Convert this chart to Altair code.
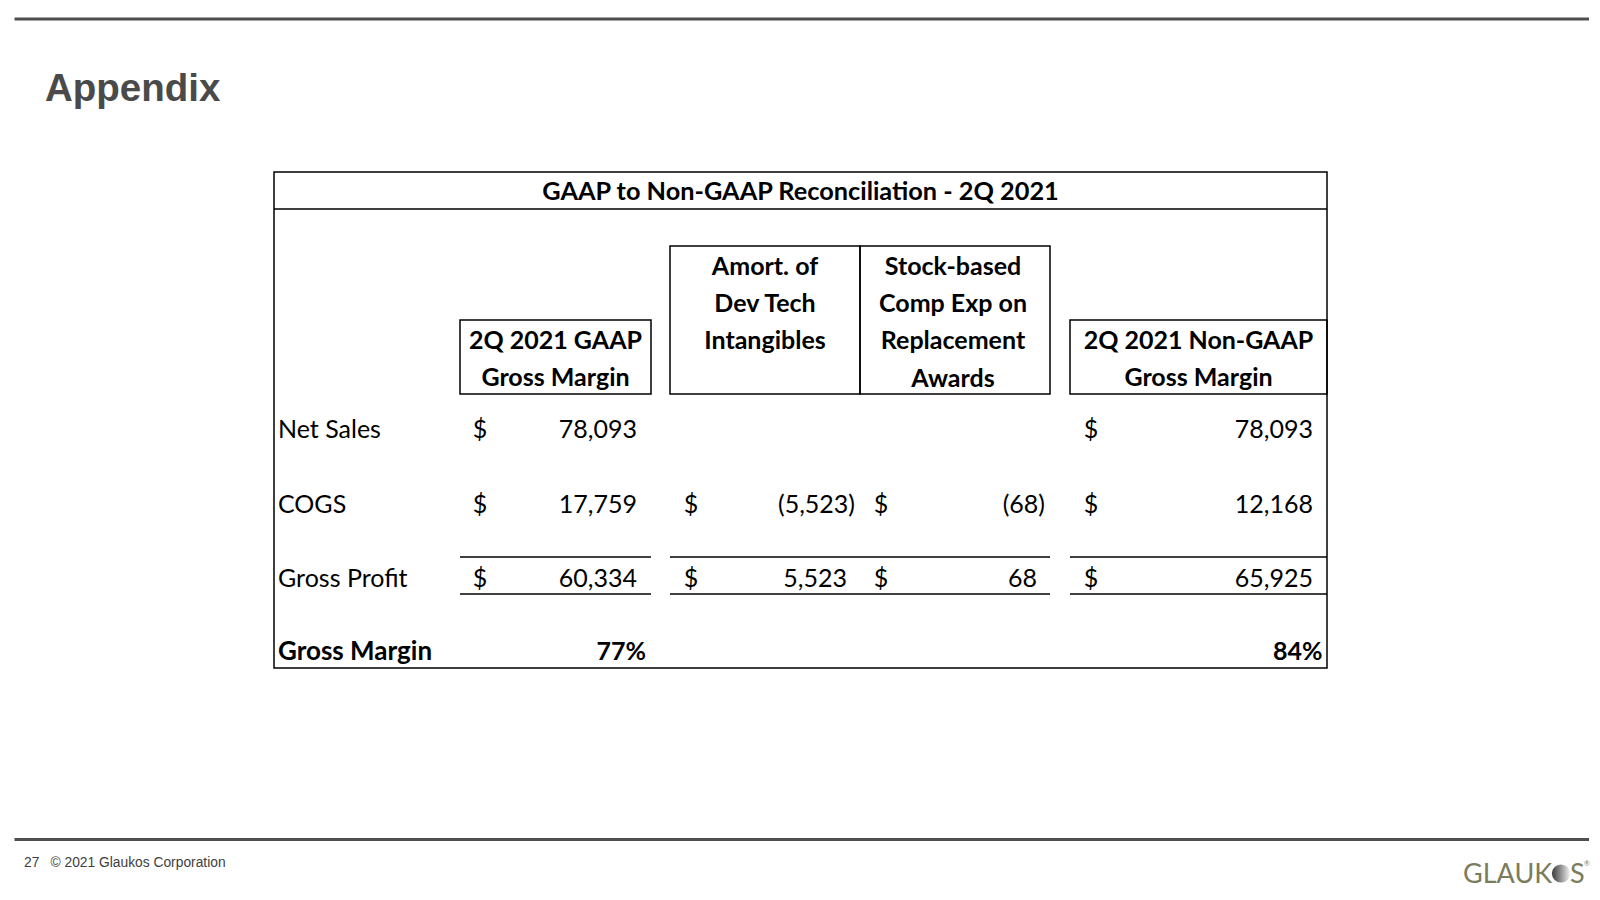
import altair as alt
import pandas as pd

# ---------------- data ----------------
slide_title = "Appendix"
table_title = "GAAP to Non-GAAP Reconciliation - 2Q 2021"
column_keys = ["gaap", "amort", "sbc", "nongaap"]
column_headers = [
    ["2Q 2021 GAAP", "Gross Margin"],
    ["Amort. of", "Dev Tech", "Intangibles"],
    ["Stock-based", "Comp Exp on", "Replacement", "Awards"],
    ["2Q 2021 Non-GAAP", "Gross Margin"],
]
row_labels = ["Net Sales", "COGS", "Gross Profit", "Gross Margin"]
gaap_values = [78093, 17759, 60334]
amort_values = [None, -5523, 5523]
sbc_values = [None, -68, 68]
nongaap_values = [78093, 12168, 65925]
gross_margin_pct = {"gaap": 77, "nongaap": 84}
footer_page = "27"
footer_text = "© 2021 Glaukos Corporation"
logo_left = "GLAUK"
logo_right = "S"

# ---------------- layout (page pixels) ----------------
W, H, M = 1600, 900, 8
TBL = dict(x0=274, x1=1327, y0=172, y1=668, rule=209)
BOX = {"gaap": (460, 651, 320, 394), "amort": (670, 860, 246, 394),
       "sbc": (860, 1050, 246, 394), "nongaap": (1070, 1327, 320, 394)}
HEAD_CX = {"gaap": 555.5, "amort": 765, "sbc": 953, "nongaap": 1198.5}
FIRST_BASE, LINE_STEP = 28.5, 37.4
ROW_BASE = [438, 512.5, 587, 660]
LABEL_X = 278
DOLLAR_X = {"gaap": 480, "amort": 691, "sbc": 881, "nongaap": 1091}
NUM_RIGHT = {"gaap": 637, "amort": 847, "sbc": 1037, "nongaap": 1313}
PAREN_W = 8
PCT_RIGHT = {"gaap": 646, "nongaap": 1322.5}
UNDER_SPANS = [(460, 651), (670, 1050), (1070, 1327)]
UNDER_Y = [557, 594]
TXT = 25
INK = "#000000"

values_by_col = {"gaap": gaap_values, "amort": amort_values,
                 "sbc": sbc_values, "nongaap": nongaap_values}


def fmt(v):
    s = f"{abs(v):,}"
    return f"({s})" if v < 0 else s


xs = alt.Scale(domain=[M, W - M], range=[0, W - 2 * M], zero=False, nice=False)
ys = alt.Scale(domain=[M, H - M], range=[0, H - 2 * M], zero=False, nice=False)

# ---------------- lines ----------------
lines = [
    dict(x=14.5, x2=1589, y=19, w=3, c="#4f4f4f"),
    dict(x=14.5, x2=1589, y=839.5, w=3, c="#4f4f4f"),
    dict(x=TBL["x0"], x2=TBL["x1"], y=TBL["rule"], w=1.5, c=INK),
]
for (a, b) in UNDER_SPANS:
    for yy in UNDER_Y:
        lines.append(dict(x=a, x2=b, y=yy, w=1.5, c=INK))
df_lines = pd.DataFrame(lines)
rules = alt.Chart(df_lines).mark_rule().encode(
    x=alt.X("x:Q", scale=xs, axis=None),
    x2="x2:Q",
    y=alt.Y("y:Q", scale=ys, axis=None),
    color=alt.Color("c:N", scale=None),
    strokeWidth=alt.StrokeWidth("w:Q", scale=None),
)

# ---------------- boxes ----------------
boxes = [dict(x=TBL["x0"], x2=TBL["x1"], y=TBL["y0"], y2=TBL["y1"])]
for k in column_keys:
    a, b, t, u = BOX[k]
    boxes.append(dict(x=a, x2=b, y=t, y2=u))
df_boxes = pd.DataFrame(boxes)
rects = alt.Chart(df_boxes).mark_rect(fillOpacity=0, stroke=INK, strokeWidth=1.5).encode(
    x=alt.X("x:Q", scale=xs, axis=None), x2="x2:Q",
    y=alt.Y("y:Q", scale=ys, axis=None), y2="y2:Q",
)

# ---------------- texts ----------------
groups = {}


def add(group, x, y, t, s=TXT, c=INK):
    groups.setdefault(group, []).append(dict(x=x, y=y, t=t, s=s, c=c))


# table title + headers (bold, centred)
add("lato_b_center", (TBL["x0"] + TBL["x1"]) / 2, 200, table_title, s=25.3)
for k, hdr in zip(column_keys, column_headers):
    top = BOX[k][2]
    for i, line in enumerate(hdr):
        add("lato_b_center", HEAD_CX[k], top + FIRST_BASE + i * LINE_STEP, line)

# row labels
for i, lab in enumerate(row_labels):
    if lab == "Gross Margin":
        add("lato_b_left", LABEL_X, ROW_BASE[i], lab, s=26)
    else:
        add("lato_left", LABEL_X, ROW_BASE[i], lab)

# values
for k in column_keys:
    for i, v in enumerate(values_by_col[k]):
        if v is None:
            continue
        add("lato_center", DOLLAR_X[k], ROW_BASE[i], "$")
        add("lato_right", NUM_RIGHT[k] + (PAREN_W if v < 0 else 0), ROW_BASE[i], fmt(v))
for k, p in gross_margin_pct.items():
    add("lato_b_right", PCT_RIGHT[k], ROW_BASE[3], f"{p}%")

# slide title and footer
add("arial_b_left", 45, 101, slide_title, s=38.5, c="#4a4a4a")
add("arial_left", 24, 867, footer_page, s=13.8, c="#404040")
add("arial_left", 50.5, 867, footer_text, s=13.8, c="#404040")
add("lato_left", 1463, 883, logo_left, s=27, c="#7a7c5c")
add("lato_left", 1570, 883, logo_right, s=27, c="#7a7c5c")
add("lato_left", 1584, 866, "®", s=7, c="#7a7c5c")

styles = {
    "lato_b_center": ("Lato", "bold", "center"),
    "lato_b_left": ("Lato", "bold", "left"),
    "lato_b_right": ("Lato", "bold", "right"),
    "lato_left": ("Lato", "normal", "left"),
    "lato_center": ("Lato", "normal", "center"),
    "lato_right": ("Lato", "normal", "right"),
    "arial_b_left": ("Liberation Sans", "bold", "left"),
    "arial_left": ("Liberation Sans", "normal", "left"),
}

text_layers = []
for g, rows in groups.items():
    font, weight, align = styles[g]
    text_layers.append(
        alt.Chart(pd.DataFrame(rows)).mark_text(
            font=font, fontWeight=weight, align=align, baseline="alphabetic"
        ).encode(
            x=alt.X("x:Q", scale=xs, axis=None),
            y=alt.Y("y:Q", scale=ys, axis=None),
            text="t:N",
            size=alt.Size("s:Q", scale=None),
            color=alt.Color("c:N", scale=None),
        )
    )

# logo "O" sphere
logo_o = alt.Chart(pd.DataFrame([dict(x=1561, y=873.5)])).mark_point(
    shape="circle", filled=True, size=330, strokeWidth=0, opacity=1,
    fill=alt.LinearGradient(
        gradient="linear", x1=0, x2=1, y1=0, y2=0,
        stops=[alt.GradientStop(offset=0, color="#3c3c3c"),
               alt.GradientStop(offset=0.45, color="#8a8a8a"),
               alt.GradientStop(offset=1, color="#f2f2f2")],
    ),
).encode(
    x=alt.X("x:Q", scale=xs, axis=None),
    y=alt.Y("y:Q", scale=ys, axis=None),
)

chart = alt.layer(rects, rules, *text_layers, logo_o).properties(
    width=W - 2 * M, height=H - 2 * M, padding=0,
    autosize=alt.AutoSizeParams(type="none"),
    background="white",
).configure_view(strokeWidth=0)

chart.save("out.html", embed_options={"renderer": "svg", "actions": False})
